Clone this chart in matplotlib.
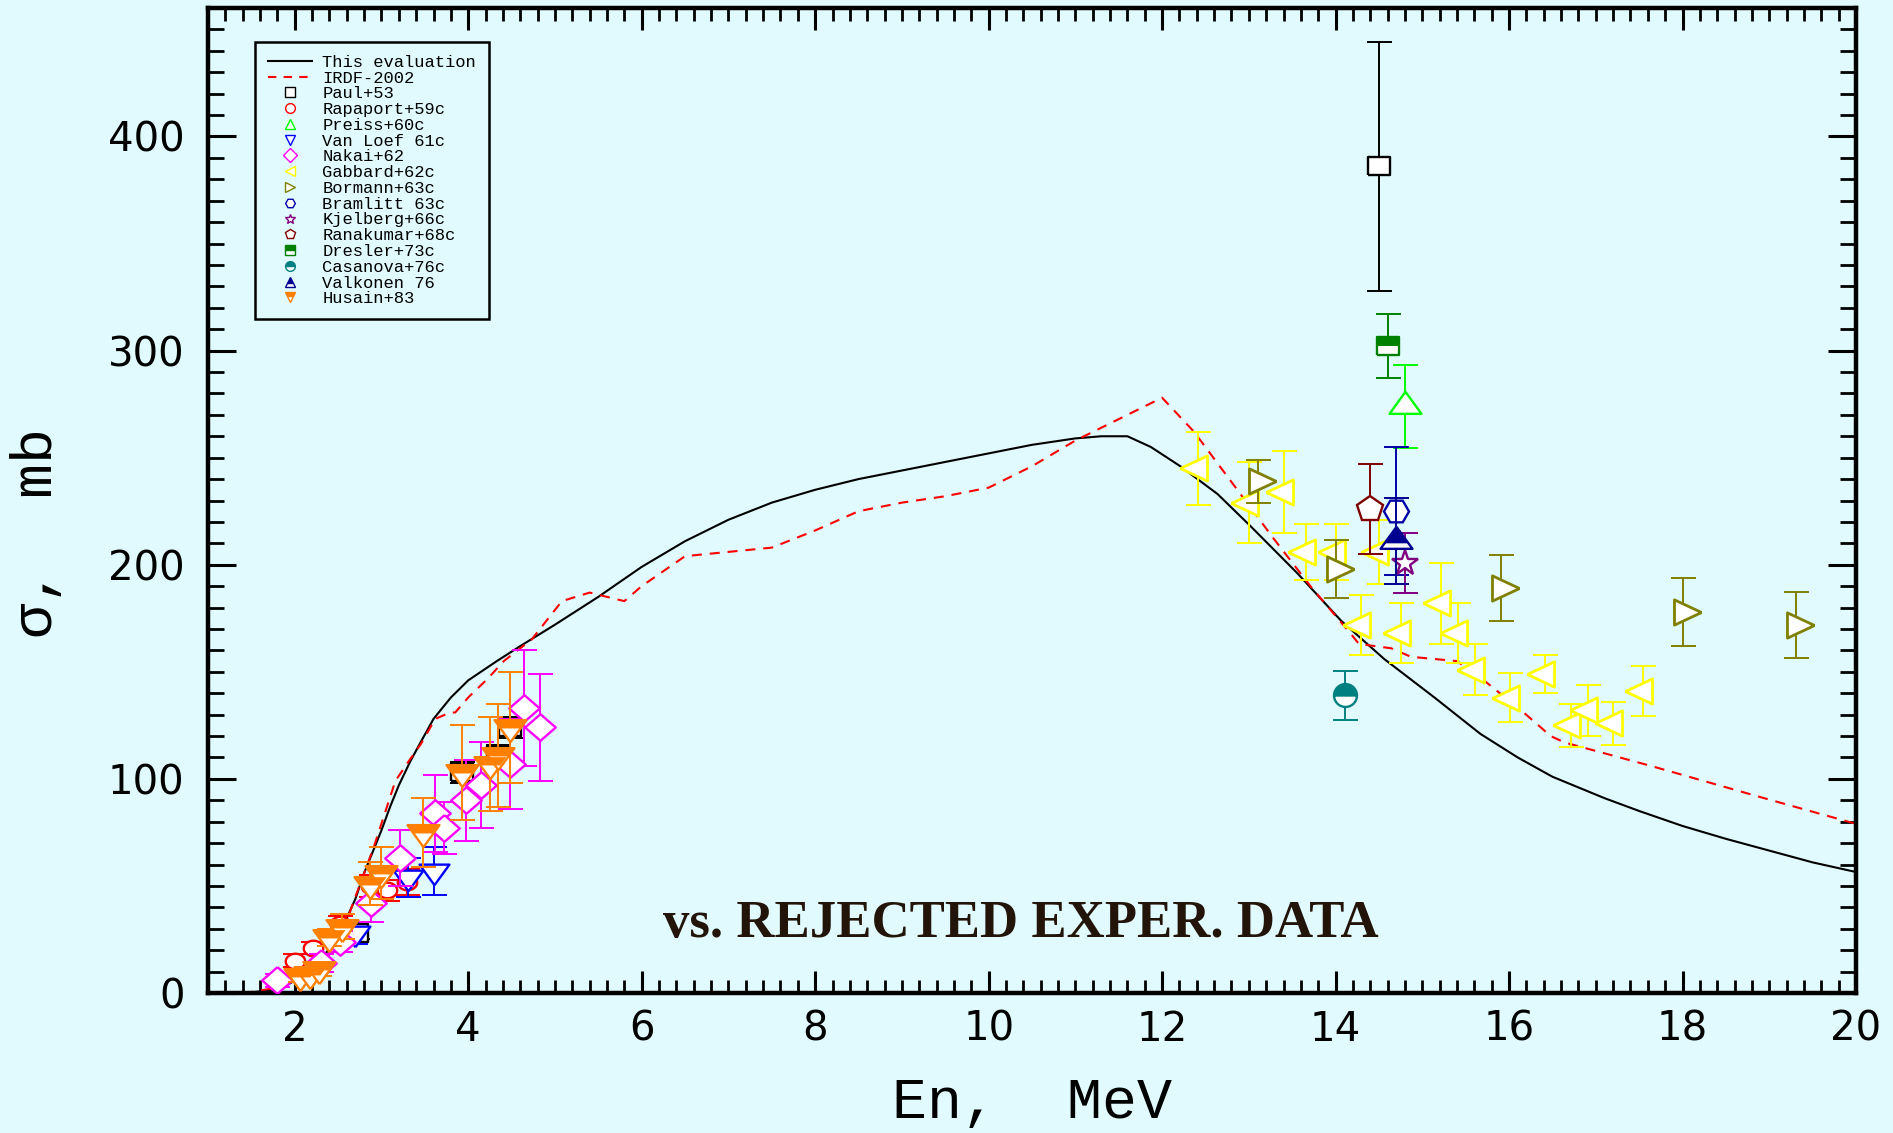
#
# Excitation function: this evaluation and IRDF-2002 vs. rejected experimental data.
#

import numpy as np
import matplotlib
matplotlib.use('Agg')
from matplotlib import pyplot as plt
from matplotlib.lines import Line2D
from matplotlib.ticker import MultipleLocator

# Evaluated curves (energy in MeV, cross section in mb)
eval_en = [1.30, 1.50, 1.70, 1.90, 2.10, 2.30, 2.50, 2.60, 2.70, 2.80, 2.90, 3.00, 3.10, 3.20,
           3.33, 3.45, 3.60, 3.80, 4.00, 4.33, 4.60, 5.00, 5.50, 6.00, 6.50, 7.00, 7.50, 8.00,
           8.50, 9.00, 9.50, 10.00, 10.50, 11.00, 11.30, 11.60, 11.87, 12.21, 12.64, 13.02,
           13.56, 14.06, 14.56, 15.14, 15.67, 16.10, 16.50, 17.10, 17.50, 18.00, 18.50, 19.00,
           19.50, 20.00]
eval_xs = [0.0, 0.3, 1.2, 3.5, 8.0, 15.0, 27.0, 35.0, 44.0, 56.0, 66.0, 76.0, 87.0, 97.0,
           108.0, 117.0, 128.0, 138.0, 146.0, 155.0, 162.0, 172.0, 185.0, 199.0, 211.0, 221.0,
           229.0, 235.0, 240.0, 244.0, 248.0, 252.0, 256.0, 259.0, 260.0, 260.0, 255.0, 246.0,
           233.0, 218.0, 196.0, 174.0, 156.0, 138.0, 121.0, 110.0, 101.0, 91.0, 85.0, 78.0,
           72.0, 66.5, 61.0, 56.5]

irdf_en = [1.20, 1.50, 1.80, 2.00, 2.20, 2.40, 2.55, 2.70, 2.91, 3.16, 3.31, 3.45, 3.62, 3.79,
           3.85, 4.00, 4.23, 4.41, 4.60, 4.73, 5.08, 5.40, 5.80, 6.00, 6.50, 7.00, 7.50, 8.00,
           8.50, 9.00, 9.50, 10.00, 10.50, 11.00, 11.50, 12.00, 12.37, 12.83, 13.29, 13.71,
           14.17, 14.27, 14.64, 14.87, 15.40, 15.71, 16.14, 16.48, 16.64, 17.64, 18.94, 20.00]
irdf_xs = [0.0, 0.5, 2.5, 5.0, 10.0, 18.0, 28.0, 45.0, 68.0, 99.0, 108.0, 116.0, 128.0, 131.0,
           131.0, 138.0, 147.0, 155.0, 161.0, 165.0, 183.0, 187.0, 183.0, 190.0, 204.0, 206.0,
           208.0, 216.0, 225.0, 229.0, 232.0, 236.0, 246.0, 258.0, 268.0, 278.0, 262.0, 237.0,
           212.0, 190.0, 168.0, 163.0, 161.0, 157.0, 155.0, 146.0, 132.0, 120.0, 117.0, 106.0,
           91.0, 79.0]

# Rejected experimental data sets: energy (MeV), cross section (mb), uncertainty (mb)
paul_en = [2.72, 3.93, 4.34, 4.48, 14.50]
paul_xs = [28, 103, 111, 124, 386]
paul_er = [3, 5, 5, 5, 58]

rapaport_en = [2.00, 2.21, 2.52, 2.88, 3.06, 3.30]
rapaport_xs = [15, 21, 32, 50, 48, 52]
rapaport_er = [3, 3, 4, 5, 5, 6]

preiss_en = [14.80]
preiss_xs = [274]
preiss_er = [19.5]

vanloef_en = [2.70, 3.31, 3.60]
vanloef_xs = [28, 54, 57]
vanloef_er = [5, 9, 11]

nakai_en = [1.80, 2.30, 2.52, 2.88, 3.21, 3.62, 3.72, 3.98, 4.15, 4.48, 4.64, 4.83]
nakai_xs = [6, 14, 24, 42, 63, 84, 77, 90, 97, 107, 133, 124]
nakai_er = [3, 4, 5, 9, 13, 18, 12, 19, 20, 21, 27, 25]

gabbard_en = [12.41, 13.00, 13.41, 13.66, 14.00, 14.29, 14.50, 14.75, 15.21, 15.41, 15.61,
              16.01, 16.41, 16.71, 16.91, 17.20, 17.55]
gabbard_xs = [245, 229, 234, 206, 206, 172, 206, 168, 182, 168, 151, 138, 149, 125, 132, 126, 141]
gabbard_er = [17, 19, 19, 13, 13, 14, 15, 14, 19, 14, 12, 11.5, 9, 10, 12, 10, 11.5]

bormann_en = [13.10, 14.01, 15.91, 18.01, 19.31]
bormann_xs = [239, 198, 189, 178, 172]
bormann_er = [10, 13.5, 15.5, 16, 15.5]

bramlitt_en = [14.70]
bramlitt_xs = [225]
bramlitt_er = [30]

kjelberg_en = [14.80]
kjelberg_xs = [201]
kjelberg_er = [14]

ranakumar_en = [14.40]
ranakumar_xs = [226]
ranakumar_er = [21]

dresler_en = [14.60]
dresler_xs = [302]
dresler_er = [15]

casanova_en = [14.11]
casanova_xs = [139]
casanova_er = [11.5]

valkonen_en = [14.70]
valkonen_xs = [211]
valkonen_er = [20]

husain_en = [2.06, 2.18, 2.28, 2.40, 2.54, 2.87, 3.00, 3.48, 3.93, 4.25, 4.34, 4.48]
husain_xs = [8, 9, 11, 26, 31, 51, 56, 75, 103, 107, 111, 124]
husain_er = [3, 3, 3, 4, 6, 10, 12, 16, 22, 22, 24, 26]

# Marker outlines (centroid at the origin, slightly wide like the plotter output)
tri_left = [(-1, 0), (0.5, -0.7), (0.5, 0.7), (-1, 0)]
tri_right = [(1, 0), (-0.5, 0.7), (-0.5, -0.7), (1, 0)]
tri_up = [(0, 0.92), (-1, -0.46), (1, -0.46), (0, 0.92)]
tri_up_top = [(0, 0.92), (-0.75, -0.115), (0.75, -0.115), (0, 0.92)]
tri_down = [(0, -0.92), (-1, 0.46), (1, 0.46), (0, -0.92)]
tri_down_top = [(-1, 0.46), (1, 0.46), (0.62, -0.06), (-0.62, -0.06), (-1, 0.46)]
box = [(-1, -0.78), (1, -0.78), (1, 0.78), (-1, 0.78), (-1, -0.78)]
box_top = [(-1, 0.0), (1, 0.0), (1, 0.78), (-1, 0.78), (-1, 0.0)]
diamond = [(0, 0.87), (1, 0), (0, -0.87), (-1, 0), (0, 0.87)]
t = np.linspace(0, 2 * np.pi, 41)
ellipse = list(zip(np.cos(t), 0.8 * np.sin(t)))

bg = '#e0fafd'
mono = 'Liberation Mono'

fig = plt.figure(figsize=(18.93, 11.33), dpi=100, facecolor=bg)
ax = fig.add_axes([208 / 1893, 140 / 1133, 1648 / 1893, 985 / 1133], facecolor=bg)

ax.plot(eval_en, eval_xs, color='black', lw=1.5, zorder=2)
ax.plot(irdf_en, irdf_xs, color='red', lw=1.5, ls=(0, (4.8, 3.8)), zorder=2)

zc = [3]

def draw_set(en, xs, er, color, marker, ms, mew=1.7, top=None, top_ms=None):
    z = zc[0]
    ax.errorbar(en, xs, yerr=er, fmt='none', ecolor=color, elinewidth=1.4,
                capsize=9, capthick=1.4, zorder=z)
    ax.plot(en, xs, ls='none', marker=marker, ms=ms, mfc='white', mec=color,
            mew=mew, zorder=z + 0.1)
    if top is not None:
        # filled upper part of a half-filled symbol
        ax.plot(en, xs, ls='none', marker=top, ms=top_ms, mfc=color, mec='none',
                mew=0, zorder=z + 0.2)
    zc[0] = z + 1

draw_set(paul_en, paul_xs, paul_er, 'black', box, 16.5)
draw_set(rapaport_en, rapaport_xs, rapaport_er, 'red', ellipse, 14)
draw_set(preiss_en, preiss_xs, preiss_er, '#00ff00', tri_up, 23)
draw_set(vanloef_en, vanloef_xs, vanloef_er, '#0000ff', tri_down, 21.5)
draw_set(nakai_en, nakai_xs, nakai_er, '#ff00ff', diamond, 22)
draw_set(gabbard_en, gabbard_xs, gabbard_er, '#ffff00', tri_left, 26, mew=2)
draw_set(bormann_en, bormann_xs, bormann_er, '#808000', tri_right, 26, mew=2)
draw_set(bramlitt_en, bramlitt_xs, bramlitt_er, '#0000a8', 'H', 18)
draw_set(kjelberg_en, kjelberg_xs, kjelberg_er, '#800080', '*', 19)
draw_set(ranakumar_en, ranakumar_xs, ranakumar_er, '#800000', 'p', 19)
draw_set(dresler_en, dresler_xs, dresler_er, '#008000', box, 16.5, top=box_top, top_ms=16.5)

# Casanova: half-filled circle
z = zc[0]
ax.errorbar(casanova_en, casanova_xs, yerr=casanova_er, fmt='none', ecolor='#008080',
            elinewidth=1.4, capsize=9, capthick=1.4, zorder=z)
ax.plot(casanova_en, casanova_xs, ls='none', marker='o', ms=16.5, fillstyle='top',
        mfc='#008080', markerfacecoloralt='white', mec='#008080', mew=1.7, zorder=z + 0.1)
zc[0] = z + 1

draw_set(valkonen_en, valkonen_xs, valkonen_er, '#000090', tri_up, 23,
         top=tri_up_top, top_ms=23 * 0.92)
draw_set(husain_en, husain_xs, husain_er, '#ff8000', tri_down, 23,
         top=tri_down_top, top_ms=23)

ax.text(10.37, 26, 'vs. REJECTED EXPER. DATA', ha='center', va='baseline',
        fontsize=38, fontfamily='Liberation Serif', fontweight='bold', color='#23140a',
        zorder=40)

# Axes, ticks, labels
ax.set_xlim(1, 20)
ax.set_ylim(0, 460)
ax.set_xticks(np.arange(2, 21, 2))
ax.set_yticks([0, 100, 200, 300, 400])
ax.xaxis.set_minor_locator(MultipleLocator(0.2))
ax.yaxis.set_minor_locator(MultipleLocator(10))
ax.tick_params(which='both', direction='in', top=True, right=True, color='black')
ax.tick_params(axis='y', which='major', length=20, width=2.2, pad=17, labelsize=29)
ax.tick_params(axis='y', which='minor', length=11.5, width=2)
ax.tick_params(axis='x', which='major', length=16, width=2.2, pad=12, labelsize=29)
ax.tick_params(axis='x', which='minor', length=9.5, width=2)
for lab in ax.get_xticklabels() + ax.get_yticklabels():
    lab.set_fontfamily('DejaVu Sans')
for sp in ax.spines.values():
    sp.set_linewidth(3.2)

ax.text(0.5, -0.127, 'En,  MeV', transform=ax.transAxes, ha='center', va='baseline',
        fontsize=42, fontfamily=mono)
ax.text(-0.104, 0.467, '\u03c3,  mb', transform=ax.transAxes, ha='center', va='center',
        rotation=90, fontsize=42, fontfamily=mono)

# Legend
handles = [
    Line2D([], [], color='black', lw=1.5),
    Line2D([], [], color='red', lw=1.5, ls=(0, (4, 3.5))),
]
leg_marks = [
    ('s', 'black', False), ('o', 'red', False), ('^', '#00ff00', False),
    ('v', '#0000ff', False), ('D', '#ff00ff', False), ('<', '#ffff00', False),
    ('>', '#808000', False), ('H', '#0000a8', False), ('*', '#800080', False),
    ('p', '#800000', False), ('s', '#008000', True), ('o', '#008080', True),
    ('^', '#000090', True), ('v', '#ff8000', True),
]
for mk, col, half in leg_marks:
    if half:
        handles.append(Line2D([], [], ls='none', marker=mk, ms=7, mec=col, mew=1,
                              fillstyle='top', mfc=col, markerfacecoloralt='white'))
    else:
        handles.append(Line2D([], [], ls='none', marker=mk, ms=7, mec=col, mew=1,
                              mfc='white'))
labels = ['This evaluation', 'IRDF-2002', 'Paul+53', 'Rapaport+59c', 'Preiss+60c',
          'Van Loef 61c', 'Nakai+62', 'Gabbard+62c', 'Bormann+63c', 'Bramlitt 63c',
          'Kjelberg+66c', 'Ranakumar+68c', 'Dresler+73c', 'Casanova+76c', 'Valkonen 76',
          'Husain+83']
leg = ax.legend(handles, labels, loc='upper left', bbox_to_anchor=(0.0285, 0.9655),
                borderaxespad=0, prop={'family': mono, 'size': 12.3}, labelspacing=0.045,
                handlelength=2.6, handletextpad=0.6, borderpad=0.75, fancybox=False,
                framealpha=1, facecolor=bg, edgecolor='black')
leg.get_frame().set_linewidth(1.8)
leg.set_zorder(50)

plt.savefig('out.png', dpi=100, facecolor=bg)
